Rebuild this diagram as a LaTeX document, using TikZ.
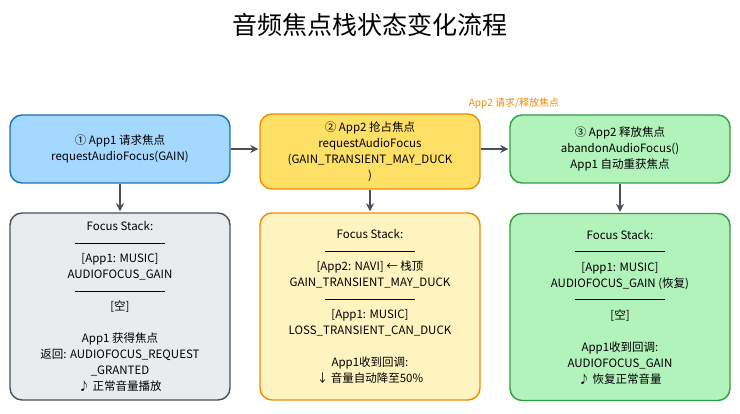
\documentclass[tikz,border=0pt]{standalone}
\usepackage{fontspec}
\setmainfont{Noto Sans CJK SC}
\usetikzlibrary{arrows.meta}
\definecolor{bF}{HTML}{A5D8FF}\definecolor{bS}{HTML}{1971C2}
\definecolor{yF}{HTML}{FFE066}\definecolor{yS}{HTML}{F08C00}
\definecolor{gF}{HTML}{B2F2BB}\definecolor{gS}{HTML}{2F9E44}
\definecolor{kF}{HTML}{E9ECEF}\definecolor{kS}{HTML}{495057}
\definecolor{lyF}{HTML}{FFF3BF}\definecolor{ar}{HTML}{495057}
\newcommand{\sepl}{\rule[0.3em]{90pt}{0.6pt}}
\tikzset{
 box/.style={draw, line width=1.4pt, rounded corners=12pt, minimum width=220pt, align=center, font=\fontsize{11.5}{16}\selectfont, inner sep=2pt},
 arr/.style={-{Stealth[length=8pt,width=8pt,open]}, line width=1.4pt, draw=ar, shorten >=1pt}
}
\begin{document}
\begin{tikzpicture}[x=1pt,y=-1pt]
\useasboundingbox (0,0) rectangle (740,414);
\node[font=\fontsize{25}{28}\selectfont] (title) at (370,25) {音频焦点栈状态变化流程};
\node[box, fill=bF, draw=bS, minimum height=68pt] (a1) at (120,149) {① App1 请求焦点\\requestAudioFocus(GAIN)};
\node[box, fill=yF, draw=yS, minimum height=75pt] (a2) at (370,151.5) {② App2 抢占焦点\\requestAudioFocus\\(GAIN\_TRANSIENT\_MAY\_DUCK\\)};
\node[box, fill=gF, draw=gS, minimum height=68pt] (a3) at (620,149) {③ App2 释放焦点\\abandonAudioFocus()\\App1 自动重获焦点};
\node[box, fill=kF, draw=kS, minimum height=187pt] (b1) at (120,306.5) {Focus Stack:\\\sepl\\{[}App1: MUSIC{]}\\AUDIOFOCUS\_GAIN\\\sepl\\{[}空{]}\\[16pt]App1 获得焦点\\返回: AUDIOFOCUS\_REQUEST\\\_GRANTED\\♪ 正常音量播放};
\node[box, fill=lyF, draw=yS, minimum height=187pt] (b2) at (370,306.5) {Focus Stack:\\\sepl\\{[}App2: NAVI{]} ← 栈顶\\GAIN\_TRANSIENT\_MAY\_DUCK\\\sepl\\{[}App1: MUSIC{]}\\LOSS\_TRANSIENT\_CAN\_DUCK\\[16pt]App1收到回调:\\↓ 音量自动降至50\%};
\node[box, fill=gF, draw=gS, minimum height=187pt] (b3) at (620,307) {Focus Stack:\\\sepl\\{[}App1: MUSIC{]}\\AUDIOFOCUS\_GAIN (恢复)\\\sepl\\{[}空{]}\\[16pt]App1收到回调:\\AUDIOFOCUS\_GAIN\\♪ 恢复正常音量};
\node[text=yS, font=\fontsize{10}{12}\selectfont] (lab) at (514,103) {App2 请求/释放焦点};
\draw[arr] (a1.east) -- (a1.east -| a2.west);
\draw[arr] (a2.east |- a1.east) -- (a1.east -| a3.west);
\draw[arr] (a1.south) -- (b1.north);
\draw[arr] (a2.south) -- (b2.north);
\draw[arr] (a3.south) -- (b3.north);
\end{tikzpicture}
\end{document}
